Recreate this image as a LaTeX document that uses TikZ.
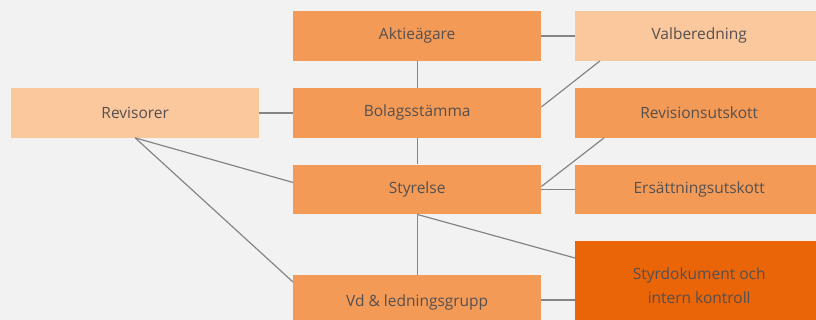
\documentclass[tikz,border=0pt]{standalone}
\usepackage{fontspec}
\setmainfont{Open Sans}
\usetikzlibrary{calc}
\definecolor{bg}{HTML}{F2F2F2}
\definecolor{mid}{HTML}{F39A57}
\definecolor{light}{HTML}{FBC79C}
\definecolor{dark}{HTML}{EA6408}
\definecolor{txt}{HTML}{555050}
\definecolor{ln}{HTML}{858585}
\tikzset{
  box/.style={rectangle, minimum width=248pt, minimum height=49.5pt, inner sep=0pt, text=txt, font=\fontsize{15.5}{24}\selectfont, align=center, anchor=north west},
  boxmid/.style={box, fill=mid},
  boxlight/.style={box, fill=light},
  boxdark/.style={box, fill=dark, minimum height=88pt},
  conn/.style={draw=ln, line width=1.2pt}
}
\begin{document}
\begin{tikzpicture}[x=1pt,y=-1pt]
\useasboundingbox (0,0) rectangle (816,320);
\clip (0,0) rectangle (816,320);
\fill[bg] (0,0) rectangle (816,320);
\node[boxmid] (akt) at (293,11) {Aktieägare};
\node[boxlight] (val) at (575,11) {Valberedning};
\node[boxlight] (rev) at (11,88) {Revisorer};
\node[boxmid] (bol) at (293,88) {Bolagsstämma};
\node[boxmid] (ru) at (575,88) {Revisionsutskott};
\node[boxmid] (sty) at (293,164.5) {Styrelse};
\node[boxmid] (eu) at (575,164.5) {Ersättningsutskott};
\node[boxdark] (sd) at (575,241) {Styrdokument och\\intern kontroll};
\node[boxmid, minimum height=55pt] (vd) at (293,275) {Vd \& ledningsgrupp};
\draw[conn] (akt.east) -- (akt.east -| val.west);
\draw[conn] (akt.south) -- (bol.north);
\draw[conn] ($(val.south west)+(25,0)$) -- ($(bol.east)+(0,-6)$);
\draw[conn] (rev.east) -- (bol.west);
\draw[conn] (rev.south) -- ($(sty.west)+(0,-7)$);
\draw[conn] (rev.south) -- ($(vd.north west)+(0,7)$);
\draw[conn] (bol.south) -- (sty.north);
\draw[conn] ($(ru.south west)+(29,0)$) -- ($(sty.east)+(0,-3)$);
\draw[conn] (sty.east) -- (eu.west);
\draw[conn] (sty.south) -- ($(sd.north west)+(0,17)$);
\draw[conn] (sty.south) -- (vd.north);
\draw[conn] ($(vd.north east)+(0,25)$) -- ($(sd.north west)+(0,59)$);
\end{tikzpicture}
\end{document}
